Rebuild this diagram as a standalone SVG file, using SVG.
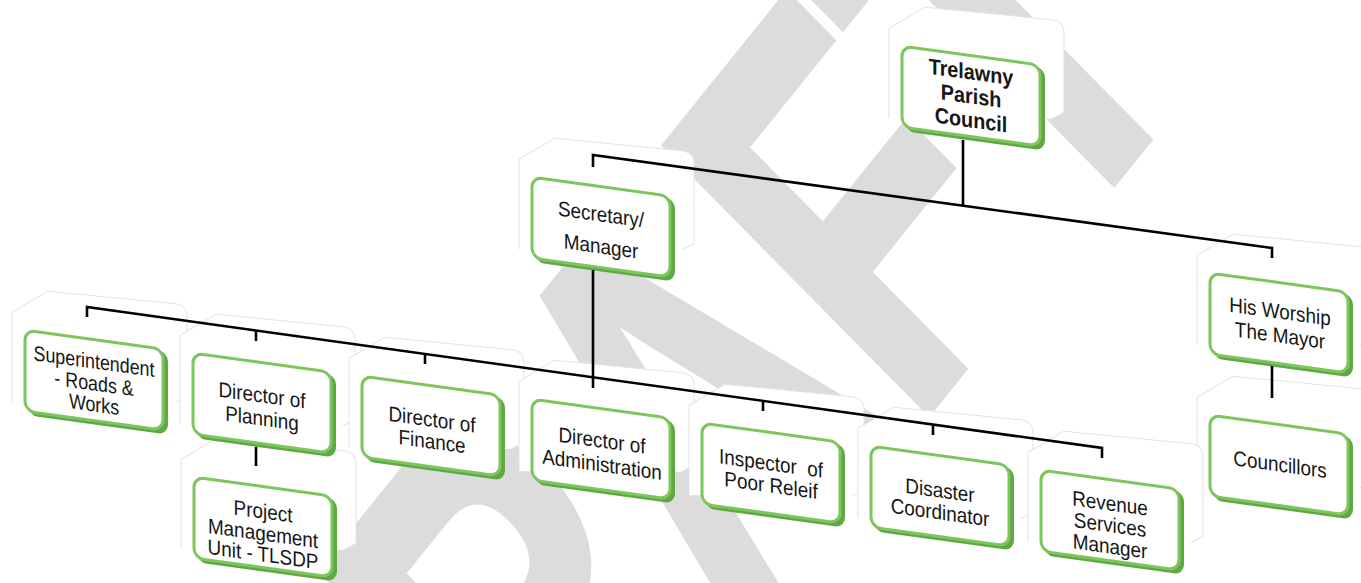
<svg xmlns="http://www.w3.org/2000/svg" width="1361" height="583" viewBox="0 0 1361 583">
<style>
.box{fill:#fff;stroke:#7dc55d;stroke-width:3}
.ext{fill:#5fa843}
.bd{fill:#fff;stroke:#e3e3e3;stroke-width:1}
.t{font-family:"Liberation Sans",Arial,sans-serif;font-size:21px;fill:#161616;text-anchor:middle}
.tb{font-weight:bold;font-size:22px}
.c{stroke:#000;stroke-width:2.6;fill:none}
.wm{font-family:"Liberation Sans",Arial,sans-serif;font-weight:bold;fill:#dcdcdc;stroke:#dcdcdc;stroke-width:8;stroke-linejoin:miter}
</style>
<defs>
<path id="bdp" d="M-13,74 L-13,-16 L23,-42 L150,-47 Q162,-47 162,-36 L162,44 L150,52"/>
<g id="card"><rect class="ext" x="3" y="2" width="140" height="83" rx="10"/><rect class="box" x="0" y="0" width="138" height="81" rx="10"/></g>
</defs>
<rect width="1361" height="583" fill="#fff"/>
<g id="watermark">
<text class="wm" font-size="390" transform="matrix(0.61,-0.756,0.971,0.984,396.5,1068.8)">DRAFT</text>
</g>
<g id="backdrops">
<use href="#bdp" class="bd" transform="translate(902,46) skewY(7.86)"/>
<use href="#bdp" class="bd" transform="translate(532,177) skewY(7.86)"/>
<use href="#bdp" class="bd" transform="translate(1210,273) skewY(7.86)"/>
<use href="#bdp" class="bd" transform="translate(1210,415) skewY(7.86)"/>
<use href="#bdp" class="bd" transform="translate(25,330) skewY(7.86)"/>
<use href="#bdp" class="bd" transform="translate(193,353) skewY(7.86)"/>
<use href="#bdp" class="bd" transform="translate(194,477) skewY(7.86)"/>
<use href="#bdp" class="bd" transform="translate(362,376) skewY(7.86)"/>
<use href="#bdp" class="bd" transform="translate(532,399) skewY(7.86)"/>
<use href="#bdp" class="bd" transform="translate(702,423) skewY(7.86)"/>
<use href="#bdp" class="bd" transform="translate(871,446) skewY(7.86)"/>
<use href="#bdp" class="bd" transform="translate(1041,470) skewY(7.86)"/>
</g>
<g id="n_trelawny" transform="translate(902,46) skewY(7.86)">
<use href="#card"/>
<g transform="translate(69,0) scale(0.9,1)"><text class="t tb"><tspan x="0" y="24">Trelawny</tspan><tspan x="0" y="48">Parish</tspan><tspan x="0" y="72">Council</tspan></text></g>
</g>
<g id="n_secretary" transform="translate(532,177) skewY(7.86)">
<use href="#card"/>
<g transform="translate(69,0) scale(0.9,1)"><text class="t"><tspan x="0" y="35">Secretary/</tspan><tspan x="0" y="67">Manager</tspan></text></g>
</g>
<g id="n_mayor" transform="translate(1210,273) skewY(7.86)">
<use href="#card"/>
<g transform="translate(70,0) scale(0.9,1)"><text class="t"><tspan x="0" y="36">His Worship</tspan><tspan x="0" y="60">The Mayor</tspan></text></g>
</g>
<g id="n_councillors" transform="translate(1210,415) skewY(7.86)">
<use href="#card"/>
<g transform="translate(70,0) scale(0.9,1)"><text class="t"><tspan x="0" y="47">Councillors</tspan></text></g>
</g>
<g id="n_superintendent" transform="translate(25,330) skewY(7.86)">
<use href="#card"/>
<g transform="translate(69,0) scale(0.85,1)"><text class="t"><tspan x="0" y="29">Superintendent</tspan><tspan x="0" y="51">- Roads &amp;</tspan><tspan x="0" y="72">Works</tspan></text></g>
</g>
<g id="n_planning" transform="translate(193,353) skewY(7.86)">
<use href="#card"/>
<g transform="translate(69,0) scale(0.9,1)"><text class="t"><tspan x="0" y="40">Director of</tspan><tspan x="0" y="63">Planning</tspan></text></g>
</g>
<g id="n_pmu" transform="translate(194,477) skewY(7.86)">
<use href="#card"/>
<g transform="translate(69,0) scale(0.9,1)"><text class="t"><tspan x="0" y="32">Project</tspan><tspan x="0" y="54">Management</tspan><tspan x="0" y="75">Unit - TLSDP</tspan></text></g>
</g>
<g id="n_finance" transform="translate(362,376) skewY(7.86)">
<use href="#card"/>
<g transform="translate(70,0) scale(0.9,1)"><text class="t"><tspan x="0" y="41">Director of</tspan><tspan x="0" y="63">Finance</tspan></text></g>
</g>
<g id="n_admin" transform="translate(532,399) skewY(7.86)">
<use href="#card"/>
<g transform="translate(70,0) scale(0.9,1)"><text class="t"><tspan x="0" y="39">Director of</tspan><tspan x="0" y="63">Administration</tspan></text></g>
</g>
<g id="n_inspector" transform="translate(702,423) skewY(7.86)">
<use href="#card"/>
<g transform="translate(69,0) scale(0.9,1)"><text class="t" style="white-space:pre"><tspan x="0" y="38">Inspector  of</tspan><tspan x="0" y="60">Poor Releif</tspan></text></g>
</g>
<g id="n_disaster" transform="translate(871,446) skewY(7.86)">
<use href="#card"/>
<g transform="translate(69,0) scale(0.9,1)"><text class="t"><tspan x="0" y="42">Disaster</tspan><tspan x="0" y="64">Coordinator</tspan></text></g>
</g>
<g id="n_revenue" transform="translate(1041,470) skewY(7.86)">
<use href="#card"/>
<g transform="translate(69,0) scale(0.9,1)"><text class="t"><tspan x="0" y="31">Revenue</tspan><tspan x="0" y="52.5">Services</tspan><tspan x="0" y="74">Manager</tspan></text></g>
</g>
<g id="connectors">
<path class="c" d="M963,140 V206"/>
<path class="c" d="M593,167 V155 L1272,248 V258"/>
<path class="c" d="M593,270 V388"/>
<path class="c" d="M87,317 V307 L1102,448 V458"/>
<path class="c" d="M256,330.5 V341"/>
<path class="c" d="M425,354 V364"/>
<path class="c" d="M763,401 V411"/>
<path class="c" d="M933,424.5 V435"/>
<path class="c" d="M256,447 V466"/>
<path class="c" d="M1272,366 V398"/>
</g>
</svg>
